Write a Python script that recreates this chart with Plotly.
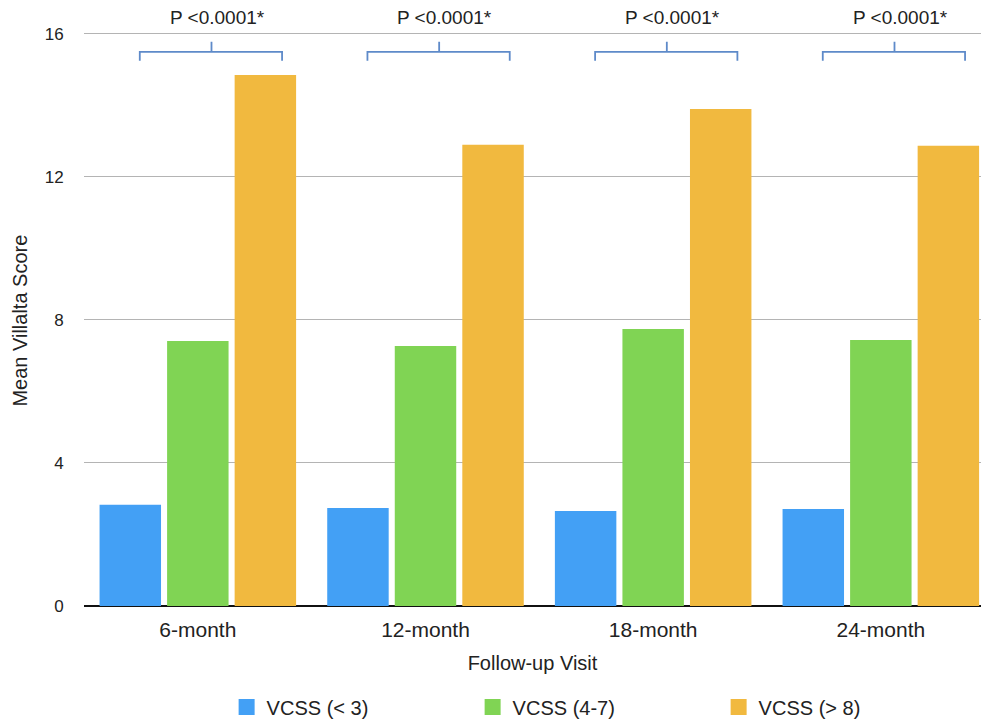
import plotly.graph_objects as go

categories = ["6-month", "12-month", "18-month", "24-month"]
series_names = ["VCSS (< 3)", "VCSS (4-7)", "VCSS (> 8)"]
vcss_low = [2.83, 2.74, 2.66, 2.71]
vcss_mid = [7.41, 7.27, 7.75, 7.44]
vcss_high = [14.85, 12.9, 13.9, 12.87]
p_labels = ["P <0.0001*", "P <0.0001*", "P <0.0001*", "P <0.0001*"]
y_ticks = [0, 4, 8, 12, 16]
y_title = "Mean Villalta Score"
x_title = "Follow-up Visit"

colors = ["#43a0f5", "#80d454", "#f1b93f"]
bracket_color = "#5e8ac9"
font_family = "Liberation Sans, Arial, sans-serif"
text_color = "#222222"

fig = go.Figure()
x_idx = list(range(len(categories)))
for name, vals, col in zip(series_names, [vcss_low, vcss_mid, vcss_high], colors):
    fig.add_trace(go.Bar(x=x_idx, y=vals, name=name, marker=dict(color=col, line=dict(width=0)),
                         showlegend=False))
    fig.add_trace(go.Scatter(x=[None], y=[None], mode="markers", name=name,
                             marker=dict(symbol="square", size=21, color=col)))

# significance brackets
b_left, b_right, b_mid = -0.255, 0.37, 0.06
y_line, y_end, y_top = 15.5, 15.25, 15.78
for i, lab in enumerate(p_labels):
    bx = [i + b_left, i + b_left, i + b_mid, i + b_mid, i + b_mid, i + b_right, i + b_right]
    by = [y_end, y_line, y_line, y_top, y_line, y_line, y_end]
    fig.add_trace(go.Scatter(x=bx, y=by, mode="lines", line=dict(color=bracket_color, width=1.8),
                             showlegend=False, hoverinfo="skip", cliponaxis=False))
    fig.add_annotation(x=i + 0.085, y=16.45, text=lab, showarrow=False, xref="x", yref="y",
                       font=dict(size=19, color=text_color, family=font_family))

# y-axis title placed as rotated text
fig.add_annotation(x=-0.0713, y=0.471, xref="paper", yref="paper", text=y_title,
                   textangle=-90, showarrow=False, xanchor="center", yanchor="middle",
                   font=dict(size=20, color=text_color, family=font_family))

fig.update_layout(
    width=981, height=721,
    margin=dict(l=84, r=0, t=0, b=115, autoexpand=False),
    paper_bgcolor="white", plot_bgcolor="white",
    barmode="group", bargap=0.11, bargroupgap=0.09,
    font=dict(family=font_family, color=text_color, size=18),
    legend=dict(orientation="h", x=0.159, y=-0.1665, xanchor="left", yanchor="middle",
                entrywidth=201, entrywidthmode="pixels", itemclick=False,
                font=dict(size=20, color=text_color, family=font_family)),
)
fig.update_xaxes(
    tickmode="array", tickvals=x_idx, ticktext=categories,
    range=[-0.5, 3.44], showgrid=False, showline=False, zeroline=False,
    ticks="outside", ticklen=5, tickcolor="rgba(0,0,0,0)",
    tickfont=dict(size=21, color=text_color),
    title=dict(text=x_title, font=dict(size=20, color=text_color), standoff=15),
)
fig.update_yaxes(
    range=[0, 16.95], tickmode="array", tickvals=y_ticks,
    showgrid=True, gridcolor="#b4b4b4", gridwidth=1,
    zeroline=True, zerolinecolor="#111111", zerolinewidth=1.6,
    showline=False, ticks="outside", ticklen=16, tickcolor="rgba(0,0,0,0)",
    tickfont=dict(size=17, color=text_color),
)

fig.write_html("out.html", config={"displayModeBar": False},
               post_script="document.body.style.margin='0';document.body.style.overflow='hidden';")
